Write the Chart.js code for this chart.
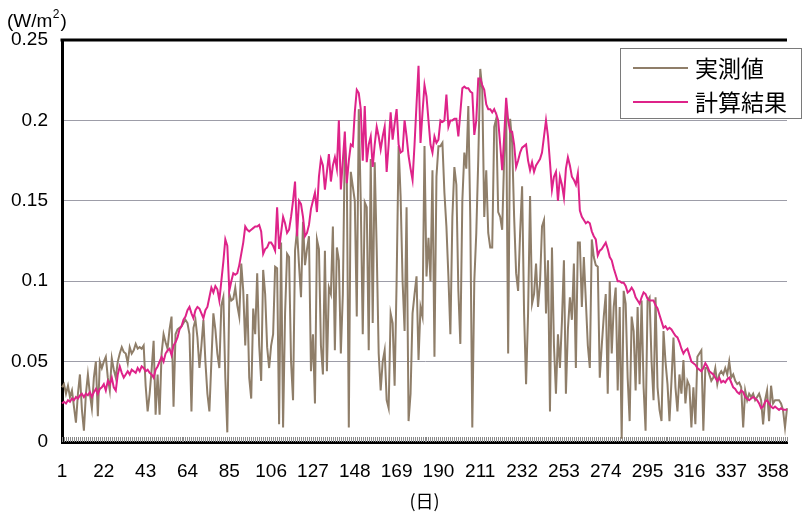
<!DOCTYPE html>
<html>
<head>
<meta charset="utf-8">
<script src="https://cdn.jsdelivr.net/npm/chart.js@4.4.1/dist/chart.umd.min.js"></script>
<style>
  html, body { margin: 0; padding: 0; background: #fff; }
  canvas { display: block; }
</style>
</head>
<body>
<canvas id="chart" width="805" height="516"></canvas>
<script>
// Day of year 1..365 (category axis)
const days = Array.from({ length: 365 }, (_, i) => i + 1);
const labelEvery = 21;            // 1, 22, 43, ... 358
const yMax = 0.25;
const yStep = 0.05;

const seriesNames = ['実測値', '計算結果'];
const unitText = '(W/m';
const unitSup = '2';
const xTitle = '(日)';

// Measured daily values
const measured = [
  0.034, 0.036, 0.030, 0.035, 0.028, 0.032, 0.022, 0.012, 0.030, 0.042,
  0.020, 0.007, 0.030, 0.042, 0.030, 0.021, 0.040, 0.050, 0.016, 0.050,
  0.046, 0.050, 0.053, 0.040, 0.032, 0.052, 0.045, 0.040, 0.050, 0.055,
  0.059, 0.056, 0.055, 0.049, 0.059, 0.055, 0.057, 0.061, 0.058, 0.059,
  0.058, 0.060, 0.035, 0.019, 0.030, 0.045, 0.063, 0.017, 0.042, 0.017,
  0.055, 0.067, 0.062, 0.058, 0.070, 0.078, 0.022, 0.067, 0.070, 0.071,
  0.072, 0.074, 0.076, 0.074, 0.067, 0.019, 0.071, 0.076, 0.065, 0.046,
  0.060, 0.076, 0.050, 0.030, 0.019, 0.050, 0.080, 0.070, 0.055, 0.046,
  0.085, 0.090, 0.040, 0.006, 0.092, 0.088, 0.089, 0.096, 0.085, 0.078,
  0.111, 0.094, 0.060, 0.092, 0.040, 0.027, 0.083, 0.067, 0.105, 0.060,
  0.038, 0.107, 0.092, 0.059, 0.046, 0.060, 0.067, 0.109, 0.108, 0.011,
  0.124, 0.009, 0.080, 0.117, 0.115, 0.050, 0.026, 0.119, 0.132, 0.110,
  0.090, 0.137, 0.110, 0.120, 0.128, 0.044, 0.067, 0.024, 0.126, 0.120,
  0.060, 0.042, 0.119, 0.044, 0.096, 0.092, 0.134, 0.057, 0.121, 0.113,
  0.055, 0.092, 0.186, 0.165, 0.009, 0.168, 0.159, 0.150, 0.078, 0.207,
  0.149, 0.067, 0.149, 0.146, 0.057, 0.176, 0.074, 0.174, 0.120, 0.055,
  0.032, 0.050, 0.057, 0.026, 0.021, 0.080, 0.074, 0.035, 0.100, 0.184,
  0.153, 0.100, 0.069, 0.146, 0.013, 0.030, 0.080, 0.092, 0.103, 0.051,
  0.084, 0.078, 0.184, 0.103, 0.127, 0.100, 0.169, 0.053, 0.165, 0.184,
  0.184, 0.186, 0.155, 0.134, 0.103, 0.067, 0.140, 0.171, 0.160, 0.094,
  0.061, 0.150, 0.180, 0.170, 0.209, 0.138, 0.009, 0.100, 0.130, 0.176,
  0.232, 0.219, 0.140, 0.169, 0.130, 0.121, 0.121, 0.196, 0.201, 0.143,
  0.140, 0.132, 0.177, 0.207, 0.055, 0.201, 0.186, 0.140, 0.105, 0.094,
  0.130, 0.159, 0.080, 0.036, 0.080, 0.153, 0.086, 0.092, 0.111, 0.084,
  0.099, 0.134, 0.138, 0.080, 0.113, 0.019, 0.121, 0.060, 0.030, 0.067,
  0.046, 0.075, 0.113, 0.030, 0.070, 0.090, 0.076, 0.111, 0.046, 0.124,
  0.124, 0.084, 0.115, 0.088, 0.060, 0.046, 0.126, 0.115, 0.110, 0.109,
  0.040, 0.060, 0.078, 0.092, 0.030, 0.100, 0.055, 0.084, 0.096, 0.032,
  0.084, 0.002, 0.094, 0.086, 0.040, 0.013, 0.078, 0.069, 0.032, 0.084,
  0.036, 0.088, 0.034, 0.007, 0.088, 0.090, 0.050, 0.026, 0.090, 0.034,
  0.020, 0.013, 0.069, 0.050, 0.036, 0.013, 0.038, 0.065, 0.034, 0.019,
  0.042, 0.030, 0.051, 0.024, 0.038, 0.035, 0.009, 0.034, 0.011, 0.053,
  0.055, 0.057, 0.007, 0.046, 0.046, 0.042, 0.038, 0.040, 0.046, 0.036,
  0.042, 0.044, 0.042, 0.046, 0.042, 0.050, 0.040, 0.042, 0.038, 0.036,
  0.037, 0.034, 0.009, 0.032, 0.026, 0.030, 0.028, 0.030, 0.026, 0.028,
  0.030, 0.026, 0.011, 0.026, 0.032, 0.013, 0.035, 0.024, 0.026, 0.026,
  0.026, 0.024, 0.020, 0.009, 0.021
];

// Calculated daily values
const calculated = [
  0.024, 0.025, 0.024, 0.026, 0.025, 0.027, 0.026, 0.028, 0.027, 0.029,
  0.030, 0.028, 0.030, 0.029, 0.031, 0.028, 0.031, 0.033, 0.030, 0.033,
  0.034, 0.036, 0.032, 0.038, 0.036, 0.040, 0.034, 0.032, 0.042, 0.047,
  0.043, 0.040, 0.042, 0.044, 0.042, 0.045, 0.044, 0.043, 0.046, 0.044,
  0.047, 0.046, 0.044, 0.045, 0.043, 0.042, 0.040, 0.045, 0.047, 0.050,
  0.053, 0.050, 0.055, 0.057, 0.058, 0.054, 0.060, 0.062, 0.065, 0.070,
  0.072, 0.076, 0.078, 0.082, 0.084, 0.080, 0.077, 0.082, 0.084, 0.083,
  0.080, 0.077, 0.082, 0.084, 0.090, 0.096, 0.093, 0.097, 0.095, 0.088,
  0.100, 0.112, 0.126, 0.122, 0.094, 0.100, 0.105, 0.104, 0.105, 0.110,
  0.117, 0.124, 0.134, 0.132, 0.131, 0.132, 0.133, 0.134, 0.134, 0.135,
  0.131, 0.117, 0.120, 0.121, 0.124, 0.124, 0.122, 0.119, 0.146, 0.120,
  0.130, 0.140, 0.136, 0.130, 0.132, 0.140, 0.150, 0.162, 0.128, 0.150,
  0.148, 0.140, 0.128, 0.130, 0.135, 0.145, 0.150, 0.155, 0.143, 0.165,
  0.176, 0.172, 0.157, 0.168, 0.179, 0.162, 0.172, 0.177, 0.170, 0.200,
  0.157, 0.175, 0.193, 0.161, 0.175, 0.185, 0.184, 0.205, 0.219, 0.217,
  0.207, 0.175, 0.209, 0.174, 0.185, 0.190, 0.171, 0.185, 0.196, 0.190,
  0.182, 0.190, 0.196, 0.168, 0.185, 0.205, 0.188, 0.198, 0.207, 0.185,
  0.180, 0.181, 0.200, 0.190, 0.178, 0.170, 0.163, 0.185, 0.210, 0.234,
  0.186, 0.205, 0.222, 0.215, 0.200, 0.185, 0.180, 0.190, 0.186, 0.188,
  0.200, 0.199, 0.200, 0.216, 0.196, 0.200, 0.200, 0.201, 0.201, 0.190,
  0.205, 0.220, 0.221, 0.220, 0.220, 0.218, 0.217, 0.191, 0.200, 0.226,
  0.226, 0.222, 0.219, 0.210, 0.207, 0.207, 0.205, 0.207, 0.204, 0.200,
  0.185, 0.169, 0.190, 0.214, 0.200, 0.193, 0.193, 0.185, 0.171, 0.175,
  0.180, 0.183, 0.184, 0.185, 0.175, 0.169, 0.174, 0.168, 0.172, 0.174,
  0.176, 0.180, 0.190, 0.200, 0.190, 0.174, 0.157, 0.165, 0.168, 0.150,
  0.165, 0.160, 0.152, 0.170, 0.177, 0.172, 0.165, 0.163, 0.160, 0.167,
  0.144, 0.140, 0.138, 0.136, 0.137, 0.136, 0.131, 0.128, 0.126, 0.116,
  0.119, 0.120, 0.122, 0.124, 0.120, 0.115, 0.113, 0.108, 0.104, 0.100,
  0.100, 0.099, 0.099, 0.097, 0.093, 0.094, 0.096, 0.094, 0.090, 0.088,
  0.086, 0.090, 0.093, 0.092, 0.089, 0.088, 0.088, 0.088, 0.085, 0.083,
  0.079, 0.075, 0.071, 0.072, 0.070, 0.071, 0.070, 0.068, 0.066, 0.065,
  0.062, 0.058, 0.055, 0.057, 0.058, 0.054, 0.050, 0.049, 0.048, 0.046,
  0.045, 0.044, 0.046, 0.049, 0.047, 0.044, 0.043, 0.042, 0.040, 0.038,
  0.040, 0.037, 0.038, 0.037, 0.039, 0.040, 0.037, 0.034, 0.033, 0.031,
  0.030, 0.032, 0.031, 0.028, 0.027, 0.026, 0.027, 0.028, 0.027, 0.026,
  0.024, 0.021, 0.022, 0.025, 0.026, 0.024, 0.022, 0.021, 0.022, 0.021,
  0.020, 0.021, 0.020, 0.020, 0.020
];

const COLOR_MEASURED = '#8f7e69';
const COLOR_CALC = '#de2389';
const NUM_FONT = '"Liberation Sans", Arial, sans-serif';
const JP_FONT = '"Noto Sans CJK JP", "Noto Sans", sans-serif';

// Frame line on top, inward day ticks, unit label and boxed legend
const decorations = {
  id: 'decorations',
  beforeDatasetsDraw(chart) {
    const { ctx, chartArea: a, scales: { x } } = chart;
    ctx.save();
    ctx.strokeStyle = '#8a8a8a';
    ctx.lineWidth = 1;
    ctx.beginPath();
    for (let i = 0; i < days.length; i++) {
      const px = Math.round(x.getPixelForValue(i)) + 0.5;
      ctx.moveTo(px, a.bottom);
      ctx.lineTo(px, a.bottom - 5);
    }
    ctx.stroke();
    ctx.restore();
  },
  afterDraw(chart) {
    const { ctx, chartArea: a } = chart;
    ctx.save();
    // top frame
    ctx.strokeStyle = '#000';
    ctx.lineWidth = 3;
    ctx.beginPath();
    ctx.moveTo(a.left - 1.5, a.top);
    ctx.lineTo(a.right, a.top);
    ctx.stroke();

    // unit label (W/m²)
    ctx.fillStyle = '#000';
    ctx.textBaseline = 'alphabetic';
    ctx.textAlign = 'left';
    ctx.font = '19px ' + NUM_FONT;
    const x0 = 7;
    ctx.fillText(unitText, x0, 27);
    const w = ctx.measureText(unitText).width;
    ctx.font = '12px ' + NUM_FONT;
    ctx.fillText(unitSup, x0 + w + 0.5, 18);
    const w2 = ctx.measureText(unitSup).width;
    ctx.font = '19px ' + NUM_FONT;
    ctx.fillText(')', x0 + w + w2 + 1.5, 27);

    // legend box
    const bx = 620, by = 48, bw = 181, bh = 70;
    ctx.fillStyle = '#fff';
    ctx.fillRect(bx, by, bw, bh);
    ctx.strokeStyle = '#7a7a7a';
    ctx.lineWidth = 1;
    ctx.strokeRect(bx + 0.5, by + 0.5, bw, bh);
    const rows = [68, 102];
    chart.data.datasets.forEach((ds, i) => {
      const yy = rows[i];
      ctx.strokeStyle = ds.borderColor;
      ctx.lineWidth = 2;
      ctx.beginPath();
      ctx.moveTo(633, yy);
      ctx.lineTo(688, yy);
      ctx.stroke();
      ctx.fillStyle = '#000';
      ctx.font = '23px ' + JP_FONT;
      ctx.textBaseline = 'middle';
      ctx.fillText(ds.label, 695, yy);
    });
    ctx.restore();
  }
};

new Chart(document.getElementById('chart'), {
  type: 'line',
  data: {
    labels: days,
    datasets: [
      {
        label: seriesNames[0],
        data: measured,
        borderColor: COLOR_MEASURED,
        borderWidth: 2,
        pointRadius: 0,
        tension: 0,
        order: 1
      },
      {
        label: seriesNames[1],
        data: calculated,
        borderColor: COLOR_CALC,
        borderWidth: 2,
        pointRadius: 0,
        tension: 0,
        order: 0
      }
    ]
  },
  options: {
    responsive: false,
    animation: false,
    devicePixelRatio: 1,
    layout: { padding: { top: 40, right: 0, bottom: 0, left: 0 } },
    plugins: { legend: { display: false }, tooltip: { enabled: false } },
    scales: {
      x: {
        type: 'category',
        grid: { display: false, drawTicks: false },
        border: { display: true, color: '#000', width: 3 },
        ticks: {
          autoSkip: false,
          maxRotation: 0,
          minRotation: 0,
          padding: 18,
          color: '#000',
          font: { family: NUM_FONT, size: 19 },
          callback: (v, i) => (i % labelEvery === 0 ? String(days[i]) : '')
        },
        title: {
          display: true,
          text: xTitle,
          color: '#000',
          font: { family: JP_FONT, size: 18 },
          padding: { top: 0, bottom: 4 }
        },
        afterFit: (s) => { s.height = 74; }
      },
      y: {
        min: 0,
        max: yMax,
        grid: { color: '#9d9da8', lineWidth: 1, drawTicks: false },
        border: { display: true, color: '#000', width: 3 },
        ticks: {
          stepSize: yStep,
          padding: 14,
          color: '#000',
          font: { family: NUM_FONT, size: 19 },
          callback: (v) => String(Number(v.toFixed(2)))
        },
        afterFit: (s) => { s.width = 62; }
      }
    }
  },
  plugins: [decorations]
});
</script>
</body>
</html>
